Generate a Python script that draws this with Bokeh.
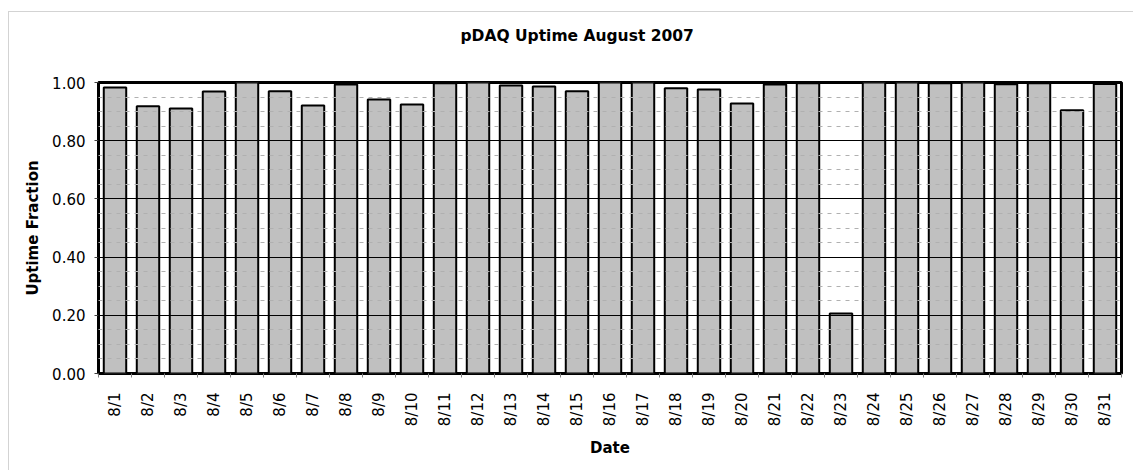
from math import pi
from bokeh.plotting import figure
from bokeh.models import FixedTicker, Grid, Range1d, PrintfTickFormatter, Title
from bokeh.embed import file_html
from bokeh.resources import INLINE

dates = ["8/1", "8/2", "8/3", "8/4", "8/5", "8/6", "8/7", "8/8", "8/9", "8/10",
         "8/11", "8/12", "8/13", "8/14", "8/15", "8/16", "8/17", "8/18", "8/19", "8/20",
         "8/21", "8/22", "8/23", "8/24", "8/25", "8/26", "8/27", "8/28", "8/29", "8/30", "8/31"]
uptime = [0.983, 0.918, 0.911, 0.969, 1.000, 0.970, 0.921, 0.993, 0.942, 0.924,
          0.997, 1.000, 0.990, 0.986, 0.970, 1.000, 1.000, 0.980, 0.976, 0.928,
          0.993, 0.997, 0.206, 1.000, 1.000, 0.997, 1.000, 0.994, 0.997, 0.905, 0.995]
y_ticks = [0.0, 0.2, 0.4, 0.6, 0.8, 1.0]
y_minor = [0.05, 0.10, 0.15, 0.25, 0.30, 0.35, 0.45, 0.50, 0.55,
           0.65, 0.70, 0.75, 0.85, 0.90, 0.95]
title_text = "pDAQ Uptime August 2007"

FONT = "DejaVu Sans"
n = len(dates)
xs = [i + 0.5 for i in range(n)]

p = figure(width=1125, height=459, x_range=Range1d(0, n), y_range=Range1d(0, 1),
           output_backend="svg", toolbar_location=None,
           min_border_left=89, min_border_right=13, min_border_top=70, min_border_bottom=98)
p.styles = {"border-left": "1px solid #d3d3d3", "border-top": "1px solid #d3d3d3",
            "margin-top": "11px", "margin-left": "8px"}

# blank spacer between frame and title, then the title itself
p.add_layout(Title(text=" ", text_font=FONT, text_font_size="15px", standoff=18), "above")
p.add_layout(Title(text=title_text, text_font=FONT, text_font_size="15.5px",
                   text_font_style="bold", text_color="black", align="left",
                   offset=362, standoff=0), "above")

p.vbar(x=xs, top=uptime, width=0.68, fill_color="#c0c0c0",
       line_color="black", line_width=2)

p.outline_line_color = "black"
p.outline_line_width = 3

# grids
p.xgrid.visible = False
p.ygrid.ticker = FixedTicker(ticks=y_ticks)
p.ygrid.grid_line_color = "black"
p.ygrid.grid_line_width = 1.2
p.ygrid.level = "overlay"
minor = Grid(dimension=1, ticker=FixedTicker(ticks=y_minor),
             grid_line_color="#b0b0b0", grid_line_dash="4 5", grid_line_width=1,
             level="overlay")
p.add_layout(minor)

# x axis
xa = p.xaxis[0]
xa.ticker = FixedTicker(ticks=xs, minor_ticks=list(range(n + 1)))
xa.major_label_overrides = {x: d for x, d in zip(xs, dates)}
xa.major_label_orientation = pi / 2
xa.major_tick_line_color = None
xa.major_tick_out = 0
xa.major_tick_in = 0
xa.minor_tick_out = 4
xa.minor_tick_in = 0
xa.minor_tick_line_color = "#808080"
xa.axis_line_color = None
xa.major_label_standoff = 15
xa.major_label_text_font = FONT
xa.major_label_text_font_size = "15px"
xa.major_label_text_color = "black"
xa.axis_label = "Date"
xa.axis_label_text_font = FONT
xa.axis_label_text_font_size = "15px"
xa.axis_label_text_font_style = "bold"
xa.axis_label_text_color = "black"
xa.axis_label_standoff = 10

# y axis
ya = p.yaxis[0]
ya.ticker = FixedTicker(ticks=y_ticks)
ya.formatter = PrintfTickFormatter(format="%.2f")
ya.major_tick_out = 4
ya.major_tick_in = 0
ya.major_tick_line_color = "#404040"
ya.minor_tick_line_color = None
ya.axis_line_color = None
ya.major_label_standoff = 9
ya.major_label_text_font = FONT
ya.major_label_text_font_size = "15px"
ya.major_label_text_color = "black"
ya.axis_label = "Uptime Fraction"
ya.axis_label_text_font = FONT
ya.axis_label_text_font_size = "15px"
ya.axis_label_text_font_style = "bold"
ya.axis_label_text_color = "black"
ya.axis_label_standoff = 7

open("out.html", "w").write(file_html(p, INLINE))
